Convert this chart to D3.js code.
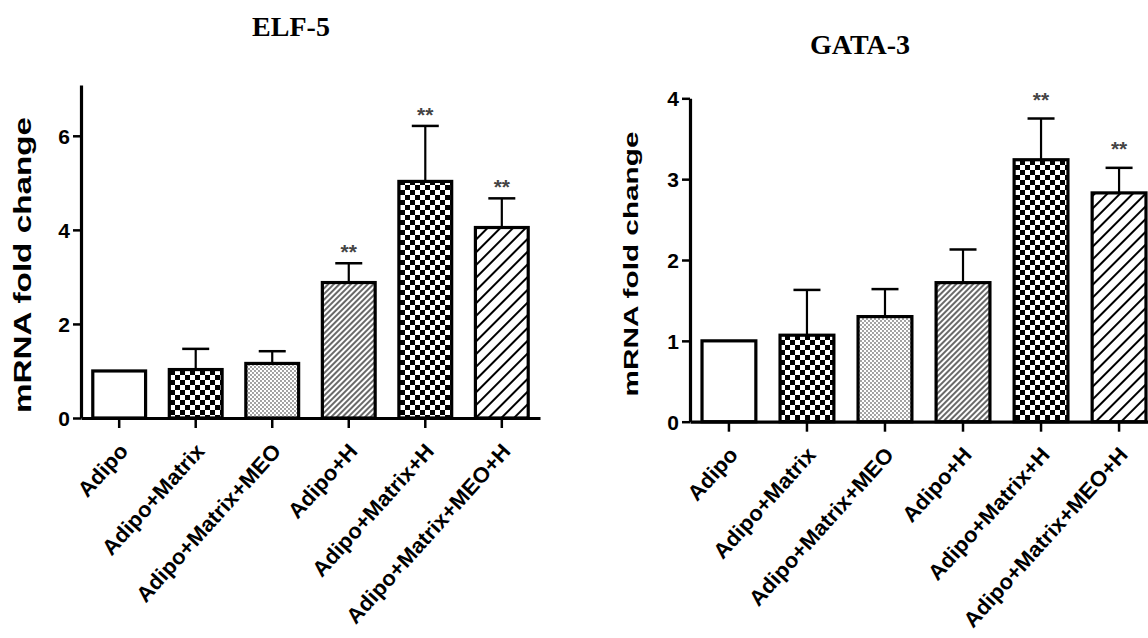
<!DOCTYPE html>
<html>
<head>
  <meta charset="utf-8">
  <script src="https://d3js.org/d3.v7.min.js"></script>
  <style>
    body { margin: 0; background: #fff; }
    .title { font-family: "Liberation Serif", "Times New Roman", serif; font-weight: bold; }
    .lab { font-family: "Liberation Sans", Arial, sans-serif; font-weight: bold; }
  </style>
</head>
<body>
<script>
  // data
  var groups = ["Adipo", "Adipo+Matrix", "Adipo+Matrix+MEO", "Adipo+H", "Adipo+Matrix+H", "Adipo+Matrix+MEO+H"];
  var fills = ["white", "checker", "stipple", "fineHatch", "checker", "wideHatch"];

  var elf5Mean = [1.0, 1.03, 1.16, 2.88, 5.03, 4.05];
  var elf5Err  = [0, 0.44, 0.26, 0.41, 1.18, 0.62];
  var elf5Sig  = ["", "", "", "**", "**", "**"];
  var elf5Ticks = [0, 2, 4, 6];

  var gata3Mean = [1.0, 1.07, 1.30, 1.72, 3.24, 2.83];
  var gata3Err  = [0, 0.56, 0.34, 0.41, 0.51, 0.31];
  var gata3Sig  = ["", "", "", "", "**", "**"];
  var gata3Ticks = [0, 1, 2, 3, 4];

  var svg = d3.select("body").append("svg")
    .attr("width", 1148)
    .attr("height", 638);

  // fill patterns
  var defs = svg.append("defs");
  var p = defs.append("pattern").attr("id", "checker")
    .attr("patternUnits", "userSpaceOnUse").attr("width", 10).attr("height", 10);
  p.append("rect").attr("width", 10).attr("height", 10).attr("fill", "#fff");
  p.append("rect").attr("width", 5).attr("height", 5).attr("fill", "#000");
  p.append("rect").attr("x", 5).attr("y", 5).attr("width", 5).attr("height", 5).attr("fill", "#000");

  p = defs.append("pattern").attr("id", "stipple")
    .attr("patternUnits", "userSpaceOnUse").attr("width", 4).attr("height", 4);
  p.append("rect").attr("width", 4).attr("height", 4).attr("fill", "#fff");
  p.append("circle").attr("cx", 1).attr("cy", 1).attr("r", 0.9).attr("fill", "#777");
  p.append("circle").attr("cx", 3).attr("cy", 3).attr("r", 0.9).attr("fill", "#777");

  p = defs.append("pattern").attr("id", "fineHatch")
    .attr("patternUnits", "userSpaceOnUse").attr("width", 4).attr("height", 4)
    .attr("patternTransform", "rotate(45)");
  p.append("rect").attr("width", 4).attr("height", 4).attr("fill", "#fff");
  p.append("line").attr("x1", 1).attr("x2", 1).attr("y1", 0).attr("y2", 4)
    .attr("stroke", "#444").attr("stroke-width", 1.6);

  p = defs.append("pattern").attr("id", "wideHatch")
    .attr("patternUnits", "userSpaceOnUse").attr("width", 9).attr("height", 9)
    .attr("patternTransform", "rotate(45)");
  p.append("rect").attr("width", 9).attr("height", 9).attr("fill", "#fff");
  p.append("line").attr("x1", 2).attr("x2", 2).attr("y1", 0).attr("y2", 9)
    .attr("stroke", "#000").attr("stroke-width", 2);

  function panel(o) {
    var g = svg.append("g");
    var x = d3.scaleBand().domain(groups).range([o.x0, o.x1])
      .paddingInner(0.31).paddingOuter(0.154);
    var y = d3.scaleLinear().domain([0, o.yMax]).range([o.y0, o.y1]);

    // title
    g.append("text").attr("class", "title")
      .attr("x", o.titleX).attr("y", o.titleY)
      .attr("text-anchor", "middle").style("font-size", "28px")
      .text(o.title);

    var data = groups.map(function (d, i) {
      return { name: d, v: o.mean[i], e: o.err[i], s: o.sig[i], f: fills[i] };
    });

    // error bars (upper only)
    var eb = g.selectAll(".eb").data(data.filter(function (d) { return d.e > 0; }))
      .enter().append("g");
    eb.append("line")
      .attr("x1", function (d) { return x(d.name) + x.bandwidth() / 2; })
      .attr("x2", function (d) { return x(d.name) + x.bandwidth() / 2; })
      .attr("y1", function (d) { return y(d.v); })
      .attr("y2", function (d) { return y(d.v + d.e); })
      .attr("stroke", "#000").attr("stroke-width", 2.2);
    eb.append("line")
      .attr("x1", function (d) { return x(d.name) + x.bandwidth() / 2 - 13.5; })
      .attr("x2", function (d) { return x(d.name) + x.bandwidth() / 2 + 13.5; })
      .attr("y1", function (d) { return y(d.v + d.e); })
      .attr("y2", function (d) { return y(d.v + d.e); })
      .attr("stroke", "#000").attr("stroke-width", 2.5);

    // bars
    g.selectAll(".bar").data(data).enter().append("rect")
      .attr("x", function (d) { return x(d.name); })
      .attr("y", function (d) { return y(d.v); })
      .attr("width", x.bandwidth())
      .attr("height", function (d) { return y(0) - y(d.v); })
      .attr("fill", function (d) { return d.f === "white" ? "#fff" : "url(#" + d.f + ")"; })
      .attr("stroke", "#000").attr("stroke-width", 3.2);

    // significance stars
    g.selectAll(".sig").data(data.filter(function (d) { return d.s; }))
      .enter().append("text").attr("class", "lab")
      .attr("x", function (d) { return x(d.name) + x.bandwidth() / 2; })
      .attr("y", function (d) { return y(d.v + d.e) - o.starGap; })
      .attr("text-anchor", "middle")
      .style("font-size", "21px").attr("fill", "#444")
      .text(function (d) { return d.s; });

    // y axis
    var ya = g.append("g").attr("transform", "translate(" + o.x0 + ",0)")
      .call(d3.axisLeft(y).tickValues(o.ticks).tickFormat(d3.format("d"))
        .tickSize(8).tickSizeOuter(0).tickPadding(3));
    ya.select(".domain").attr("stroke-width", 3.2);
    ya.selectAll(".tick line").attr("stroke-width", 2.5);
    ya.selectAll(".tick text").attr("class", "lab").style("font-size", "21px")
      .attr("dy", "0.36em").attr("fill", "#000");

    // x axis
    var xa = g.append("g").attr("transform", "translate(0," + o.y0 + ")")
      .call(d3.axisBottom(x).tickSize(10).tickSizeOuter(0).tickFormat(""));
    xa.select(".domain").attr("stroke-width", 3.2);
    xa.selectAll(".tick line").attr("stroke-width", 2.5);

    g.selectAll(".xl").data(groups).enter().append("text").attr("class", "lab")
      .attr("text-anchor", "end").style("font-size", "21.5px")
      .attr("transform", function (d) {
        return "translate(" + (x(d) + x.bandwidth() / 2 + 10) + "," + (o.y0 + 34) + ") rotate(-48) scale(1.03,1)";
      })
      .text(function (d) { return d; });

    // y label
    g.append("text").attr("class", "lab")
      .attr("transform", "translate(" + o.labX + "," + o.labY + ") rotate(-90)")
      .attr("text-anchor", "middle").style("font-size", o.labSize + "px")
      .attr("textLength", o.labLen).attr("lengthAdjust", "spacingAndGlyphs")
      .text("mRNA fold change");
  }

  panel({
    title: "ELF-5", titleX: 291, titleY: 36,
    mean: elf5Mean, err: elf5Err, sig: elf5Sig, ticks: elf5Ticks,
    x0: 81, x1: 540, y0: 418, y1: 85, yMax: 7.08, starGap: 4,
    labX: 31, labY: 265, labSize: 23, labLen: 296
  });

  panel({
    title: "GATA-3", titleX: 860, titleY: 54,
    mean: gata3Mean, err: gata3Err, sig: gata3Sig, ticks: gata3Ticks,
    x0: 690, x1: 1158, y0: 421.7, y1: 98.3, yMax: 4, starGap: 12,
    labX: 638, labY: 264, labSize: 21, labLen: 265
  });
</script>
</body>
</html>
